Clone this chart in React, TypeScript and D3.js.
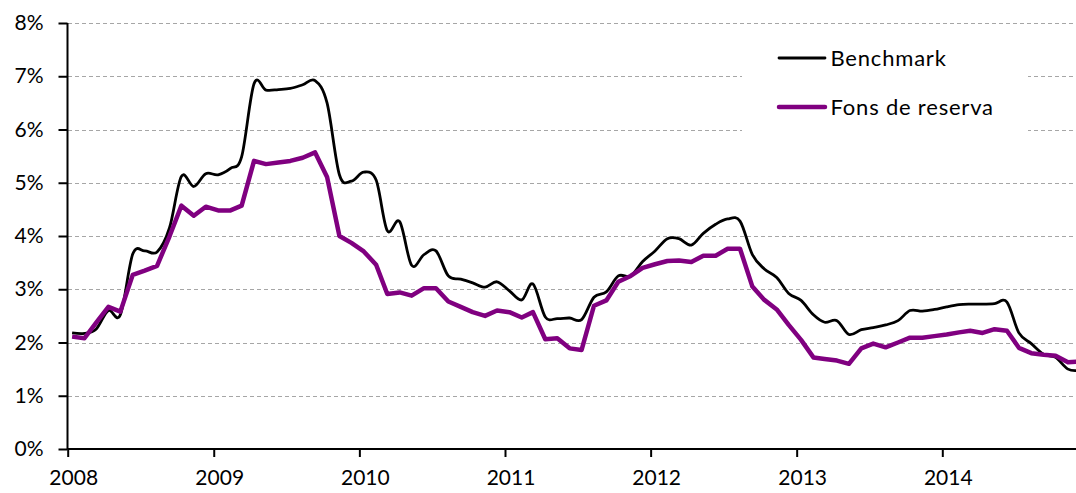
import React, { useEffect, useRef } from 'react';
import * as d3 from 'd3';

// monthly observations, Jan 2008 .. Dec 2014
const benchmark = [
  2.18, 2.17, 2.25, 2.6, 2.52, 3.66, 3.72, 3.7, 4.15, 5.12, 4.93, 5.17,
  5.15, 5.27, 5.49, 6.86, 6.74, 6.75, 6.77, 6.84, 6.92, 6.5, 5.15, 5.03,
  5.2, 5.05, 4.1, 4.27, 3.45, 3.65, 3.72, 3.25, 3.19, 3.12, 3.04, 3.14,
  2.97, 2.8, 3.1, 2.48, 2.45, 2.46, 2.43, 2.85, 2.95, 3.25, 3.25, 3.52,
  3.72, 3.95, 3.95, 3.83, 4.05, 4.22, 4.32, 4.28, 3.65, 3.38, 3.22, 2.92,
  2.79, 2.52, 2.38, 2.41, 2.15, 2.24, 2.28, 2.33, 2.41, 2.6, 2.59, 2.62,
  2.67, 2.71, 2.72, 2.72, 2.73, 2.76, 2.18, 1.98, 1.78, 1.72, 1.5, 1.48,
];

const fonsReserva = [
  2.11, 2.08, 2.37, 2.67, 2.58, 3.27, 3.35, 3.44, 3.99, 4.57, 4.38, 4.55,
  4.48, 4.48, 4.57, 5.41, 5.35, 5.38, 5.41, 5.47, 5.57, 5.11, 4.0, 3.87,
  3.71, 3.46, 2.91, 2.94, 2.88, 3.02, 3.02, 2.77, 2.67, 2.57, 2.5, 2.6,
  2.57, 2.47, 2.57, 2.06, 2.08, 1.89, 1.86, 2.69, 2.79, 3.14, 3.25, 3.4,
  3.47, 3.53, 3.54, 3.51, 3.63, 3.63, 3.76, 3.76, 3.05, 2.8, 2.62, 2.33,
  2.05, 1.72, 1.69, 1.66, 1.6, 1.89, 1.98, 1.91, 2.0, 2.09, 2.09, 2.12,
  2.15, 2.19, 2.22, 2.18, 2.25, 2.22, 1.9, 1.8, 1.77, 1.75, 1.63, 1.64,
];

const months = benchmark.map((_, i) => new Date(2008, i, 12));
const yearTicks = [2008, 2009, 2010, 2011, 2012, 2013, 2014];
const pctTicks = [0, 1, 2, 3, 4, 5, 6, 7, 8];
const seriesNames = ['Benchmark', 'Fons de reserva'];

const W = 1076;
const H = 493;
const FONT = 'Lato, "Open Sans", sans-serif';

export default function App() {
  const svgRef = useRef<SVGSVGElement>(null);

  useEffect(() => {
    if (!svgRef.current) return;
    const svg = d3.select(svgRef.current);
    svg.selectAll('*').remove();

    const x = d3.scaleTime()
      .domain([new Date(2008, 0, 1), new Date(2014, 0, 1)])
      .range([67.7, 942.3]);
    const y = d3.scaleLinear().domain([0, 8]).range([449, 23]);

    // gridlines
    svg.append('g')
      .selectAll('line')
      .data(pctTicks.filter(d => d > 0))
      .join('line')
      .attr('x1', 68)
      .attr('x2', W)
      .attr('y1', d => Math.round(y(d)) + 0.5)
      .attr('y2', d => Math.round(y(d)) + 0.5)
      .attr('stroke', '#a6a6a6')
      .attr('stroke-width', 1.2)
      .attr('stroke-dasharray', '4,3');

    // y axis
    const yAxis = svg.append('g')
      .attr('transform', 'translate(67.5,0)')
      .call(d3.axisLeft(y).tickValues(pctTicks).tickSize(9).tickPadding(15).tickFormat(d => `${d}%`));
    yAxis.select('.domain').attr('stroke', '#000').attr('stroke-width', 2).attr('d', `M0,${y(8)}V${y(0)}`);
    yAxis.selectAll('.tick line').attr('stroke', '#000').attr('stroke-width', 2);
    yAxis.selectAll('text')
      .attr('font-family', FONT)
      .attr('font-size', 21)
      .attr('fill', '#000');

    // x axis
    const xAxis = svg.append('g')
      .attr('transform', 'translate(0,449)')
      .call(d3.axisBottom(x)
        .tickValues(yearTicks.map(yr => new Date(yr, 0, 1)))
        .tickSize(8)
        .tickPadding(13)
        .tickFormat(d => d3.timeFormat('%Y')(d as Date)));
    xAxis.select('.domain').attr('stroke', '#000').attr('stroke-width', 2).attr('d', `M67.5,0H${W}`);
    xAxis.selectAll('.tick line').attr('stroke', '#000').attr('stroke-width', 2);
    xAxis.selectAll('text')
      .attr('font-family', FONT)
      .attr('font-size', 21)
      .attr('fill', '#000')
      .attr('dx', 5.5);

    // lines
    const line = d3.line<number>()
      .x((_, i) => x(months[i]))
      .y(d => y(d));

    svg.append('path')
      .datum(benchmark)
      .attr('d', line.curve(d3.curveCatmullRom.alpha(0))(benchmark))
      .attr('fill', 'none')
      .attr('stroke', '#000')
      .attr('stroke-width', 2.8);

    svg.append('path')
      .datum(fonsReserva)
      .attr('d', line.curve(d3.curveLinear)(fonsReserva))
      .attr('fill', 'none')
      .attr('stroke', '#800080')
      .attr('stroke-width', 4.5)
      .attr('stroke-linejoin', 'round');

    // legend
    const legend = svg.append('g');
    legend.append('rect')
      .attr('x', 742).attr('y', 38).attr('width', 286).attr('height', 112)
      .attr('fill', '#fff');
    const colors = ['#000', '#800080'];
    const widths = [2.8, 4.5];
    seriesNames.forEach((name, i) => {
      const ly = 58 + i * 49;
      legend.append('line')
        .attr('x1', 779).attr('x2', 825)
        .attr('y1', ly).attr('y2', ly)
        .attr('stroke', colors[i])
        .attr('stroke-width', widths[i])
        .attr('stroke-linecap', 'round');
      legend.append('text')
        .attr('x', 830.5).attr('y', ly)
        .attr('dy', '0.35em')
        .attr('font-family', FONT)
        .attr('font-size', 22)
        .attr('letter-spacing', 0.8)
        .attr('fill', '#000')
        .text(name);
    });
  }, []);

  return (
    <svg
      ref={svgRef}
      width={W}
      height={H}
      style={{ position: 'absolute', left: 0, top: 0, background: '#fff' }}
    />
  );
}
